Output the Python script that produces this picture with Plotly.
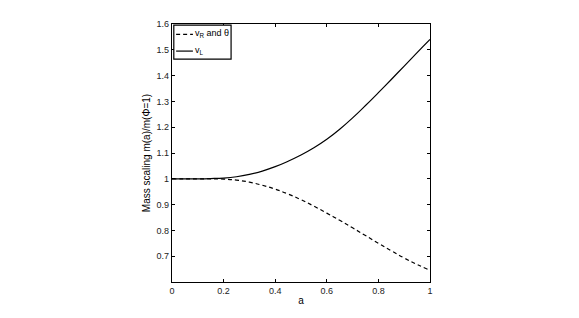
import plotly.graph_objects as go

a_vals = [0, 0.05, 0.1, 0.15, 0.2, 0.25, 0.3, 0.35, 0.4, 0.45, 0.5,
          0.55, 0.6, 0.65, 0.7, 0.75, 0.8, 0.85, 0.9, 0.95, 1.0]
v_L = [1.0, 1.0, 1.0, 1.001, 1.003, 1.008, 1.017, 1.030, 1.047, 1.068, 1.092,
       1.120, 1.153, 1.192, 1.236, 1.284, 1.334, 1.385, 1.437, 1.489, 1.54]
v_R = [1.0, 1.0, 1.0, 1.0, 0.999, 0.995, 0.987, 0.975, 0.960, 0.941, 0.919,
       0.894, 0.867, 0.839, 0.810, 0.780, 0.750, 0.721, 0.693, 0.668, 0.645]

series_names = ["v<sub>R</sub> and θ", "v<sub>L</sub>"]
series_dash = ["4px,3px", "solid"]

x_ticks = [0, 0.2, 0.4, 0.6, 0.8, 1]
x_ticktext = ["0", "0.2", "0.4", "0.6", "0.8", "1"]
y_ticks = [0.7, 0.8, 0.9, 1.0, 1.1, 1.2, 1.3, 1.4, 1.5, 1.6]
y_ticktext = ["0.7", "0.8", "0.9", "1", "1.1", "1.2", "1.3", "1.4", "1.5", "1.6"]

fig = go.Figure()
for yv, nm, ds in zip([v_R, v_L], series_names, series_dash):
    fig.add_trace(go.Scatter(x=a_vals, y=yv, mode="lines", name=nm, showlegend=False,
                             line=dict(color="black", width=1.2, dash=ds,
                                       shape="spline", smoothing=1.3)))

# MATLAB-style legend box drawn in the plot's paper coordinates
fig.add_shape(type="rect", xref="paper", yref="paper",
              x0=0.007, x1=0.229, y0=0.864, y1=0.996,
              line=dict(color="black", width=1.2), fillcolor="white", layer="above")
for nm, ds, ly in zip(series_names, series_dash, [0.960, 0.895]):
    fig.add_shape(type="line", xref="paper", yref="paper",
                  x0=0.016, x1=0.081, y0=ly, y1=ly,
                  line=dict(color="black", width=1.2, dash=ds), layer="above")
    fig.add_annotation(xref="paper", yref="paper", x=0.083, y=ly + 0.004,
                       xanchor="left", yanchor="middle", text=nm, showarrow=False,
                       font=dict(family="Liberation Sans, Arial", size=9, color="black"))

axis_common = dict(showline=True, linecolor="black", linewidth=1.2, mirror="ticks",
                   ticks="inside", ticklen=3, tickcolor="black", tickwidth=1,
                   showgrid=False, zeroline=False, automargin=False,
                   tickfont=dict(family="Liberation Sans, Arial", size=9, color="#222"))

# page body has an 8px margin, so the figure is sized to fit inside it
fig.update_layout(
    width=563, height=302,
    margin=dict(l=164, r=141, t=16, b=28),
    paper_bgcolor="white", plot_bgcolor="white",
    font=dict(family="Liberation Sans, Arial", size=9, color="black"),
    showlegend=False,
    xaxis=dict(range=[0, 1], tickvals=x_ticks, ticktext=x_ticktext,
               title=dict(text="a", standoff=2, font=dict(size=10)), **axis_common),
    yaxis=dict(range=[0.6, 1.6], tickvals=y_ticks, ticktext=y_ticktext,
               title=dict(text="Mass scaling m(a)/m(Φ=1)", standoff=4, font=dict(size=10)),
               **axis_common),
)

fig.write_html("out.html")
